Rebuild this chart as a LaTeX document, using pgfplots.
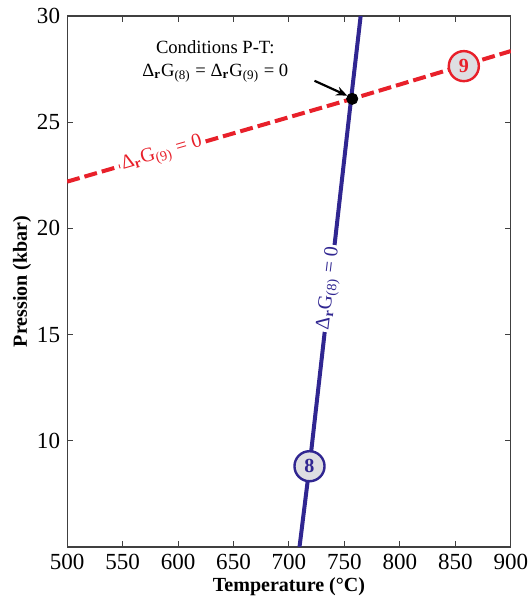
\documentclass[border=0pt]{standalone}
\usepackage{fontspec}
\setmainfont{Liberation Serif}
\usepackage{pgfplots}
\pgfplotsset{compat=1.18}
\usetikzlibrary{arrows.meta}
\definecolor{lineblue}{RGB}{48,38,145}
\definecolor{linered}{RGB}{232,32,42}
\definecolor{tagfill}{RGB}{222,222,226}
\newcommand{\dG}[1]{Δ\textsubscript{\textbf{r}}G\textsubscript{(#1)}}
\begin{document}
\begin{tikzpicture}
\begin{axis}[
  scale only axis,
  width=221.5pt, height=265pt,
  xmin=500, xmax=900, ymin=5, ymax=30,
  xtick={500,550,...,900},
  ytick={10,15,20,25,30},
  tick align=inside,
  major tick length=3pt,
  axis line style={black!75, line width=0.6pt},
  every tick/.style={black!75, line width=0.5pt},
  /pgf/number format/assume math mode=true,
  ticklabel style={font=\fontsize{11.5}{13}\selectfont},
  xlabel={\textbf{Temperature (°C)}},
  ylabel={\textbf{Pression (kbar)}},
  label style={font=\fontsize{10}{12}\selectfont},
  xlabel style={yshift=3pt},
  ylabel style={yshift=-4pt},
  clip=true,
]
  \coordinate (SW) at (rel axis cs:0,0);
  \coordinate (NE) at (rel axis cs:1,1);
  % DrG(9) = 0
  \addplot[linered, line width=2pt, dash pattern=on 6.5pt off 2.5pt]
    coordinates {(500,22.2) (757,26.1) (900,28.35)};
  % DrG(8) = 0
  \addplot[lineblue, line width=2pt]
    coordinates {(709.5,5) (718.5,8.8) (756,26.1) (764.6,30)};
  % intersection
  \addplot[only marks, mark=*, mark size=2.8pt, black]
    coordinates {(757,26.1)};

  \node[fill=white, inner sep=1pt, rotate=16.2, text=linered,
    font=\fontsize{10}{12}\selectfont]
    at (axis cs:585.5,23.5) {\dG{9} = 0};
  \node[fill=white, inner sep=1pt, rotate=83.4, text=lineblue,
    font=\fontsize{10}{12}\selectfont]
    at (axis cs:736.5,17.17) {\dG{8} = 0};

  \node[align=center, font=\fontsize{9.3}{11.5}\selectfont, inner sep=0pt]
    at (axis cs:633.6,27.85) {Conditions P-T:\\ \dG{8} = \dG{9} = 0};
  \draw[-{Stealth[length=5.5pt,width=4.5pt]}, line width=1.1pt]
    (axis cs:723,26.95) -- (axis cs:752.5,26.25);

  \node[circle, draw=lineblue, line width=1.2pt, fill=tagfill, inner sep=1.5pt,
    text=lineblue, font=\normalsize\bfseries, minimum size=15pt]
    at (axis cs:718.5,8.8) {8};
  \node[circle, draw=linered, line width=1.2pt, fill=tagfill, inner sep=1.5pt,
    text=linered, font=\normalsize\bfseries, minimum size=15pt]
    at (axis cs:857.6,27.64) {9};
\end{axis}
% page frame placed round the axis box as in the reference
\pgfresetboundingbox
\path ([shift={(-33.5pt,-26pt)}]SW) rectangle ([shift={(10.5pt,8pt)}]NE);
\end{tikzpicture}
\end{document}
